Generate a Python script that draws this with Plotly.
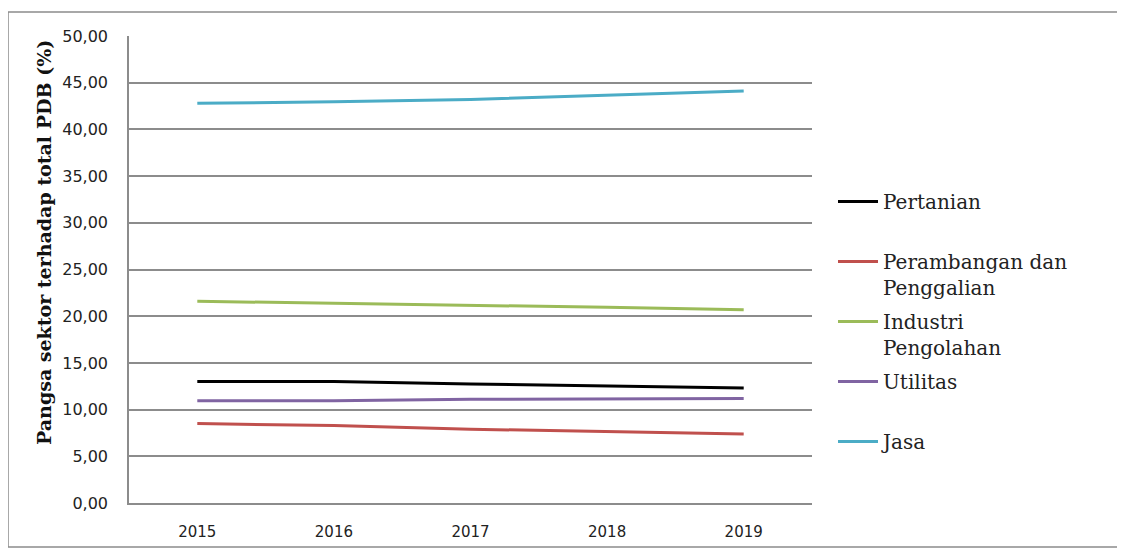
import plotly.graph_objects as go

years = ["2015", "2016", "2017", "2018", "2019"]
pertanian = [13.0, 13.0, 12.75, 12.5, 12.3]
perambangan = [8.5, 8.3, 7.9, 7.65, 7.4]
industri = [21.6, 21.4, 21.2, 20.95, 20.7]
utilitas = [10.95, 10.95, 11.1, 11.15, 11.2]
jasa = [42.8, 42.95, 43.2, 43.65, 44.1]

series_names = ["Pertanian<br> ", "Perambangan dan<br>Penggalian", "Industri<br>Pengolahan",
                "Utilitas<br> ", "Jasa<br> "]
series_values = [pertanian, perambangan, industri, utilitas, jasa]
series_colors = ["#000000", "#c0504d", "#9bbb59", "#8064a2", "#4bacc6"]

fig = go.Figure()
for i, (n, v, c) in enumerate(zip(series_names, series_values, series_colors)):
    fig.add_trace(go.Scatter(x=years, y=v, name=n, mode="lines",
                             line=dict(color=c, width=3), legendgroup=str(i)))

OFF = 8  # page body margin
L, R, T, B = 129 - OFF, 812 - OFF, 36 - OFF, 503 - OFF
W, H = 1125 - OFF, 548 - OFF

def px(x):
    return (x - OFF - L) / (R - L)

def py(y):
    return (B - (y - OFF)) / (B - T)

fig.update_layout(
    template="none",
    width=W, height=H,
    margin=dict(l=L, r=W - R, t=T, b=H - B, pad=0, autoexpand=False),
    paper_bgcolor="white", plot_bgcolor="white",
    separators=",.",
    showlegend=True,
    legend=dict(x=px(833), y=py(182), xanchor="left", yanchor="top",
                font=dict(family="DejaVu Serif", size=20, color="#222222"),
                valign="top", tracegroupgap=5, itemwidth=40,
                bgcolor="rgba(0,0,0,0)", borderwidth=0),
    xaxis=dict(type="category", range=[-0.5, 4.5], showgrid=False, showline=True,
               automargin=False,
               linecolor="#8c8c8c", linewidth=1.5, ticks="outside", ticklen=14,
               tickcolor="rgba(0,0,0,0)",
               tickfont=dict(family="DejaVu Sans", size=15, color="#222222"), zeroline=False),
    yaxis=dict(range=[0, 50], dtick=5, tickformat=".2f", showgrid=True, gridcolor="#8c8c8c",
               automargin=False,
               gridwidth=1.5, showline=True, linecolor="#8c8c8c", linewidth=1.5,
               ticks="outside", ticklen=16, tickcolor="rgba(0,0,0,0)",
               tickfont=dict(family="DejaVu Sans", size=16, color="#222222"), zeroline=False),
    shapes=[dict(type="rect", xref="paper", yref="paper", x0=px(8), x1=px(1121),
                 y0=py(547), y1=py(12), line=dict(color="#8c8c8c", width=1.5), layer="below")],
    annotations=[dict(text="<b>Pangsa sektor terhadap total PDB (%)</b>", textangle=-90,
                      xref="paper", yref="paper", x=px(44), y=py(243), showarrow=False,
                      xanchor="center", yanchor="middle",
                      font=dict(family="DejaVu Serif", size=19, color="#111111"))],
)

fig.write_html("out.html")
